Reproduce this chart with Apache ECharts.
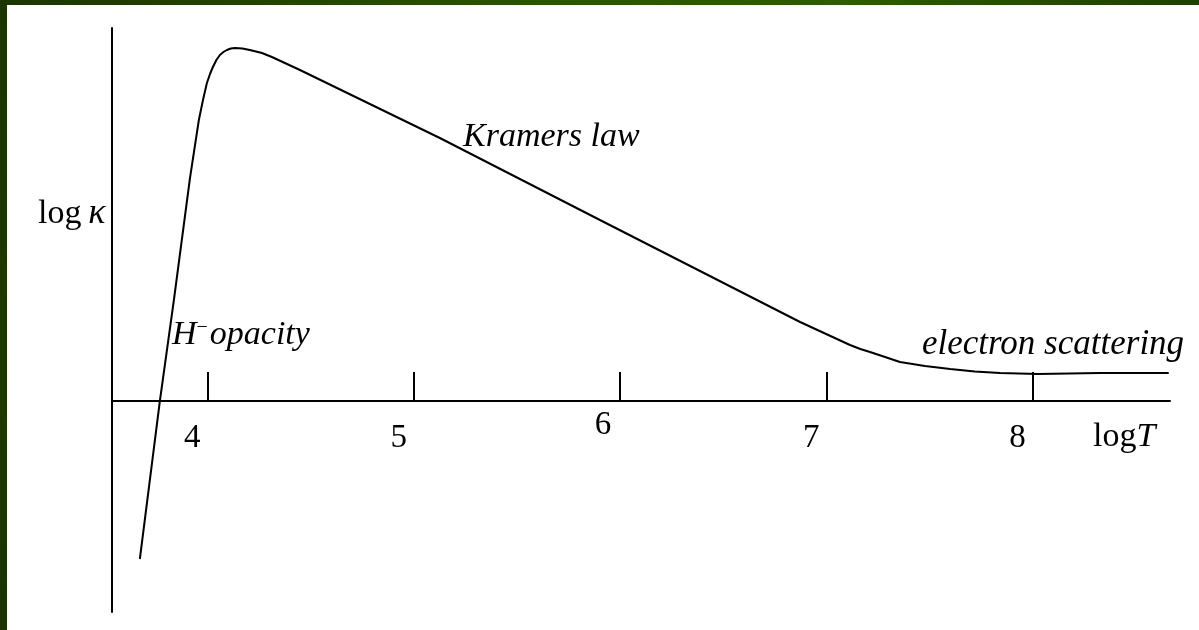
<!DOCTYPE html>
<html>
<head>
<meta charset="utf-8">
<script src="https://cdn.jsdelivr.net/npm/echarts@6/dist/echarts.min.js"></script>
<style>
  html, body { margin:0; padding:0; background:#fff; }
  #chart { position:absolute; left:0; top:0; width:1199px; height:630px; }
  #btop { position:absolute; left:0; top:0; width:1199px; height:5px; z-index:10;
          background:linear-gradient(to right,#1b3500,#2a5400 45%,#2e5c00 70%,#1e4000); }
  #bleft { position:absolute; left:0; top:0; width:7px; height:630px; z-index:10;
          background:linear-gradient(to bottom,#1b3500,#1c3a00 60%,#1a3300); }
</style>
</head>
<body>
<div id="chart"></div>
<div id="btop"></div>
<div id="bleft"></div>
<script>
// ---- data ----
const logT = [3.673, 3.770, 3.838, 3.916, 3.959, 3.980, 3.998, 4.013, 4.027, 4.044, 4.061, 4.078, 4.095, 4.114, 4.134, 4.170, 4.206, 4.265, 4.313, 4.449, 5.127, 5.903, 6.873, 7.115, 7.165, 7.212, 7.285, 7.357, 7.418, 7.478, 7.540, 7.600, 7.720, 7.842, 8.026, 8.327, 8.660];
const logKappa = [-1.58, 0.00, 1.01, 2.23, 2.81, 3.02, 3.18, 3.27, 3.34, 3.41, 3.46, 3.49, 3.51, 3.525, 3.53, 3.525, 3.51, 3.48, 3.44, 3.31, 2.63, 1.81, 0.79, 0.56, 0.52, 0.49, 0.44, 0.39, 0.37, 0.35, 0.335, 0.32, 0.295, 0.28, 0.27, 0.28, 0.28];
const xTicks = [4, 5, 6, 7, 8];
const tickLabels = ['4', '5', '6', '7', '8'];
const annotations = ['Kramers law', 'opacity', 'electron scattering'];

const serif = "'Liberation Serif', 'Times New Roman', serif";
const chart = echarts.init(document.getElementById('chart'), null, { renderer: 'canvas' });

const option = {
  animation: false,
  backgroundColor: '#fff',
  grid: { left: 112, right: 29, top: 28, bottom: 18, containLabel: false, outerBoundsMode: 'none' },
  xAxis: {
    type: 'value', min: 3.538, max: 8.666, position: 'bottom', offset: -211,
    splitLine: { show: false },
    axisLine: { show: true, onZero: false, lineStyle: { color: '#000', width: 2 } },
    axisTick: { show: true, customValues: xTicks, inside: true, length: 29, lineStyle: { color: '#000', width: 2 } },
    axisLabel: {
      show: true, customValues: xTicks, margin: 4, color: '#000',
      formatter: function (v) {
        const i = xTicks.indexOf(v);
        const s = i >= 0 ? tickLabels[i] : '';
        return v === 6 ? '{up|' + s + '}' : '{n|' + s + '}';
      },
      rich: {
        n: { fontSize: 33, fontFamily: serif, color: '#000', padding: [17, 30, 0, 0] },
        up: { fontSize: 33, fontFamily: serif, color: '#000', padding: [4, 34, 0, 0] }
      }
    }
  },
  yAxis: {
    type: 'value', min: -2.11, max: 3.73,
    splitLine: { show: false },
    axisLine: { show: true, onZero: false, lineStyle: { color: '#000', width: 2 } },
    axisTick: { show: false },
    axisLabel: { show: false }
  },
  series: [{
    type: 'line',
    data: logT.map((x, i) => [x, logKappa[i]]),
    symbol: 'none',
    smooth: false,
    lineStyle: { color: '#000', width: 2 },
    silent: true
  }],
  graphic: [
    { type: 'text', left: 38, top: 196, z: 100,
      style: { text: '{r|log\u2009}{i|\u03BA}', rich: {
        r: { fontSize: 34, fontFamily: serif, fill: '#000' },
        i: { fontSize: 36, fontFamily: serif, fontStyle: 'italic', fill: '#000' } } } },
    { type: 'text', left: 1093, top: 420, z: 100,
      style: { text: '{r|log}{i|T}', rich: {
        r: { fontSize: 34, fontFamily: serif, fill: '#000' },
        i: { fontSize: 34, fontFamily: serif, fontStyle: 'italic', fill: '#000' } } } },
    { type: 'text', left: 463, top: 120, z: 100,
      style: { text: annotations[0], font: 'italic 34px ' + serif, fill: '#000' } },
    { type: 'text', left: 172, top: 318, z: 100,
      style: { text: '{i|H}{s|\u2212}{i|' + annotations[1] + '}', rich: {
        i: { fontSize: 34, fontFamily: serif, fontStyle: 'italic', fill: '#000' },
        s: { fontSize: 20, fontFamily: serif, fill: '#000', verticalAlign: 'top', padding: [0, 2, 0, 0] } } } },
    { type: 'text', left: 922, top: 327, z: 100,
      style: { text: annotations[2], font: 'italic 35px ' + serif, fill: '#000' } }
  ]
};
chart.setOption(option);
</script>
</body>
</html>
